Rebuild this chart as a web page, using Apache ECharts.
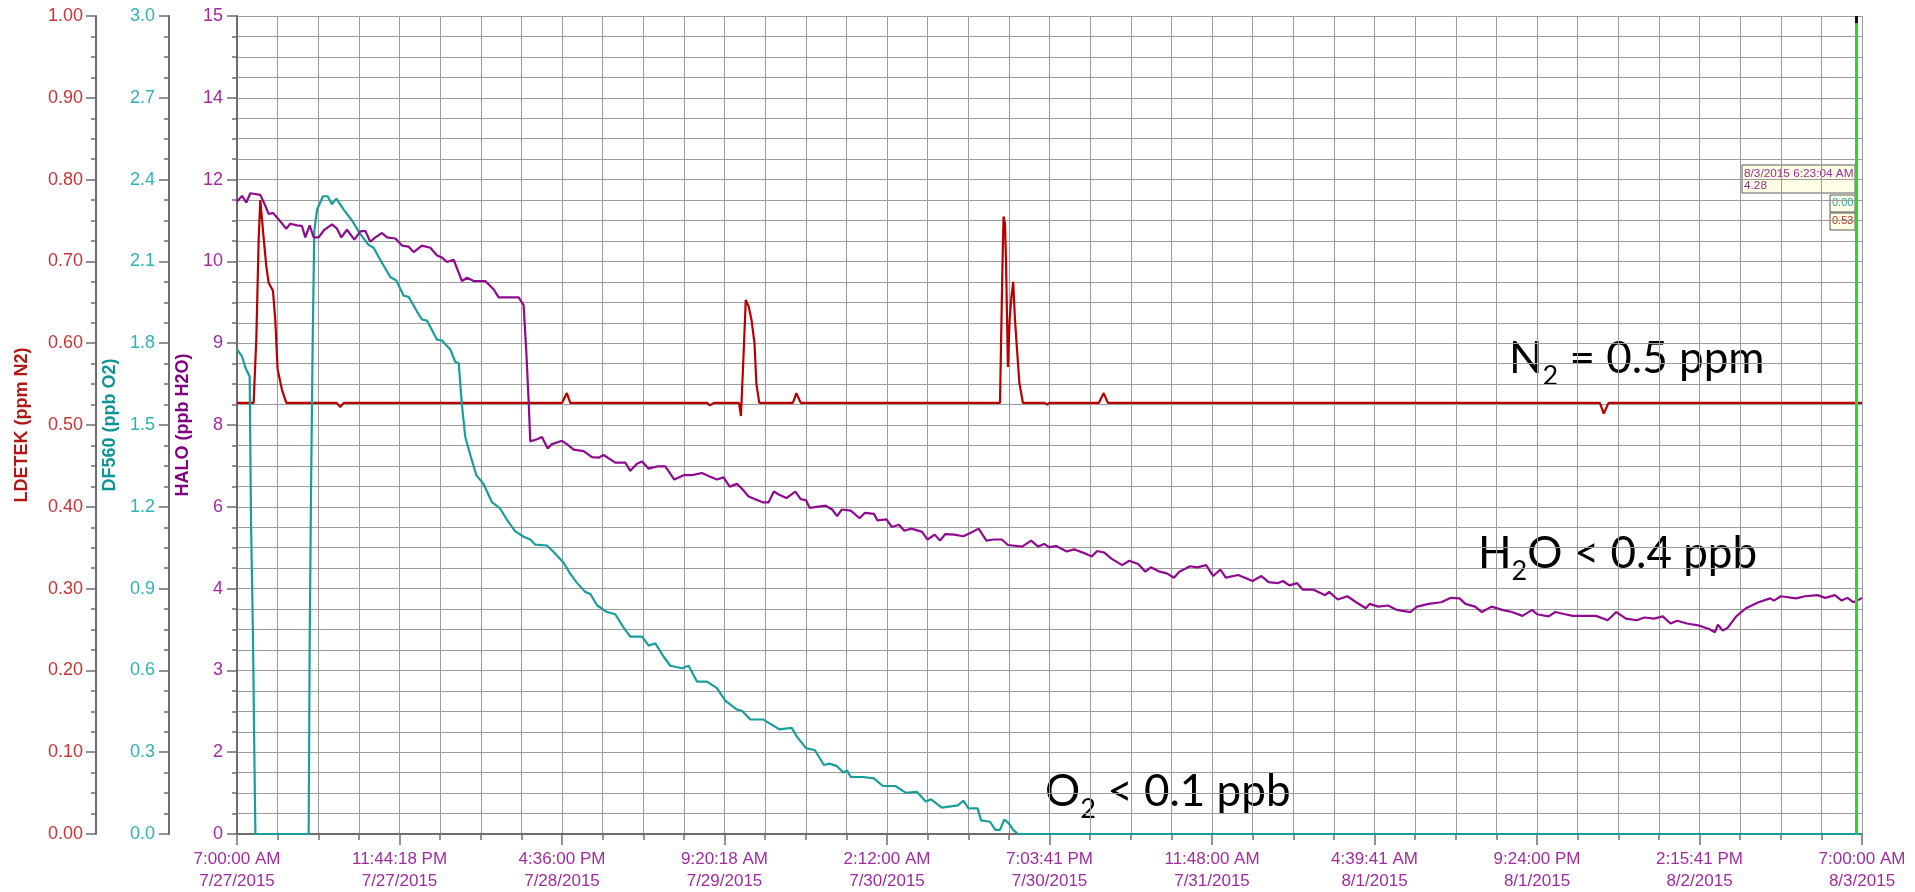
<!DOCTYPE html>
<html>
<head>
<meta charset="utf-8">
<script src="https://cdn.jsdelivr.net/npm/echarts@6/dist/echarts.min.js"></script>
<style>
html,body{margin:0;padding:0;background:#fff;}
#chart{width:1915px;height:892px;}
</style>
</head>
<body>
<div id="chart"></div>
<script>
// ---- x axis (hours since 7/27/2015 7:00:00 AM) ----
const xLabelTimes = ['7:00:00 AM','11:44:18 PM','4:36:00 PM','9:20:18 AM','2:12:00 AM','7:03:41 PM','11:48:00 AM','4:39:41 AM','9:24:00 PM','2:15:41 PM','7:00:00 AM'];
const xLabelDates = ['7/27/2015','7/27/2015','7/28/2015','7/29/2015','7/30/2015','7/30/2015','7/31/2015','8/1/2015','8/1/2015','8/2/2015','8/3/2015'];
const haloTickLabels = ['0','2','3','4','6','8','9','10','12','14','15'];
const cursorHour = 167.384;  // 8/3/2015 6:23:04 AM

// ---- LDETEK (ppm N2) ----
const ldetekHours = [0,1.72,2.0,2.24,2.41,2.69,3.03,3.27,3.72,3.96,4.2,4.65,5.1,10.3,10.68,11.03,33.6,34.1,34.46,48.6,48.9,49.3,51.9,52.1,52.35,52.6,52.9,53.2,53.5,53.7,54.0,57.47,57.83,58.28,78.88,79.14,79.25,79.40,79.51,79.70,79.88,80.06,80.25,80.43,80.62,80.88,81.25,83.5,83.76,84.0,89.1,89.6,90.04,140.9,141.3,141.8,168];
const ldetekPpm = [0.527,0.527,0.606,0.727,0.775,0.737,0.694,0.674,0.664,0.628,0.568,0.543,0.527,0.527,0.522,0.527,0.527,0.539,0.527,0.527,0.524,0.527,0.527,0.511,0.58,0.653,0.645,0.628,0.60,0.55,0.527,0.527,0.539,0.527,0.527,0.697,0.755,0.746,0.697,0.571,0.629,0.656,0.675,0.629,0.596,0.552,0.527,0.527,0.525,0.527,0.527,0.539,0.527,0.527,0.514,0.527,0.527];

// ---- DF560 (ppb O2) ----
const df560Hours = [0,0.52,0.86,1.31,1.45,1.65,1.79,1.90,7.41,7.51,7.65,7.82,7.99,8.27,8.89,9.37,9.82,10.27,11.03,11.89,12.75,13.61,14.13,14.82,15.85,16.47,17.23,17.75,18.61,19.12,19.64,20.68,21.19,22.05,22.57,22.92,23.26,23.6,24.12,24.74,25.5,26.36,27.22,27.91,28.77,29.63,30.32,30.84,32.05,32.91,33.77,34.46,35.15,36.0,36.53,37.22,38.25,39.11,39.97,40.66,41.87,42.56,43.25,44.11,44.8,46.0,46.69,47.55,48.59,49.62,50.48,51.69,52.2,53.07,54.4,55.1,56.06,57.35,57.9,58.83,59.75,60.68,61.23,61.97,62.7,63.08,63.45,64.74,65.85,66.77,68.06,69.17,70.28,71.2,71.76,72.86,73.97,74.53,75.08,75.63,76.56,76.93,77.85,78.4,78.88,79.33,79.77,80.25,80.73,168];
const df560Ppb = [1.777,1.752,1.711,1.678,1.143,0.732,0.304,0,0,0.683,1.242,1.793,2.21,2.29,2.339,2.339,2.31,2.33,2.29,2.25,2.20,2.16,2.15,2.105,2.043,2.03,1.974,1.97,1.916,1.887,1.883,1.813,1.81,1.777,1.731,1.727,1.571,1.456,1.39,1.316,1.283,1.217,1.193,1.152,1.11,1.09,1.08,1.061,1.058,1.028,0.995,0.954,0.921,0.888,0.88,0.839,0.814,0.806,0.757,0.724,0.724,0.691,0.699,0.65,0.617,0.608,0.617,0.559,0.559,0.535,0.489,0.456,0.452,0.42,0.42,0.405,0.384,0.389,0.356,0.315,0.307,0.253,0.258,0.25,0.225,0.233,0.209,0.209,0.204,0.176,0.176,0.151,0.155,0.119,0.127,0.097,0.102,0.105,0.122,0.094,0.094,0.05,0.045,0.015,0.015,0.053,0.04,0.015,0,0];

// ---- HALO (ppb H2O) ----
const haloHours = [0,0.52,0.96,1.38,2.41,2.93,3.27,3.72,4.31,5.10,5.51,6.20,6.72,7.06,7.51,7.93,8.44,9.03,9.82,10.34,10.79,11.37,12.13,12.75,13.27,13.78,14.30,14.99,15.51,16.37,17.06,17.75,18.26,19.12,19.99,20.68,21.19,21.71,22.40,23.26,23.78,24.47,25.67,26.53,27.05,29.12,29.63,29.91,30.15,30.32,31.01,31.53,32.12,32.56,33.60,34.11,34.80,35.84,36.70,37.39,37.90,39.11,40.14,40.66,41.35,41.87,42.56,43.42,44.28,45.21,46.17,47.04,48.07,48.93,49.62,50.31,50.93,51.69,52.21,52.89,53.58,
54.4,54.95,55.5,56.06,56.8,57.72,58.28,58.83,59.2,59.94,60.86,61.53,62.04,62.52,63.45,64.37,64.92,65.85,66.22,67.14,67.7,68.43,68.99,69.73,70.83,71.39,72.13,72.68,73.23,74.16,75.08,75.82,76.67,77.48,78.22,79.07,79.7,81.17,82.1,82.83,83.46,83.94,84.68,85.79,86.53,87.45,88.37,88.93,89.67,90.4,91.51,92.25,93.17,93.91,94.47,95.39,96.13,96.87,97.42,98.53,99.27,100.19,100.93,101.67,102.22,103.51,104.99,105.91,106.65,107.58,108.13,108.8,
109.6,110.2,111.3,112.5,112.9,113.8,114.8,115.7,116.7,117.1,118.0,119.0,119.9,121.3,122.0,123.2,124.5,125.5,126.4,127.0,128.0,128.7,129.7,130.8,131.8,132.9,133.9,134.4,135.6,136.3,137.3,138.1,140.5,141.7,142.6,143.6,144.7,145.5,146.5,147.4,148.2,148.9,149.9,151.2,152.2,152.8,153.1,153.6,154.1,155.0,156.0,157.3,158.5,158.9,159.6,161.2,162.1,163.4,164.2,165.2,165.9,166.5,167.1,167.5,168];
const haloPpb = [11.60,11.70,11.58,11.75,11.72,11.52,11.37,11.39,11.27,11.10,11.19,11.16,11.15,10.94,11.16,10.94,10.94,11.08,11.18,11.10,10.94,11.08,10.90,11.05,11.06,10.86,10.94,11.02,10.94,10.92,10.79,10.77,10.67,10.79,10.75,10.61,10.57,10.49,10.53,10.14,10.20,10.14,10.14,9.99,9.84,9.84,9.70,8.84,7.94,7.20,7.24,7.28,7.07,7.15,7.21,7.15,7.05,7.02,6.91,6.90,6.95,6.81,6.81,6.66,6.79,6.83,6.70,6.74,6.74,6.50,6.58,6.58,6.62,6.55,6.50,6.54,6.37,6.42,6.33,6.19,6.14,
6.08,6.08,6.28,6.22,6.16,6.28,6.14,6.12,5.98,6.00,6.02,5.95,5.83,5.95,5.93,5.79,5.89,5.87,5.75,5.77,5.63,5.67,5.56,5.60,5.54,5.40,5.49,5.38,5.50,5.49,5.46,5.52,5.60,5.38,5.40,5.40,5.30,5.27,5.38,5.27,5.32,5.26,5.28,5.18,5.22,5.16,5.09,5.19,5.16,5.05,4.93,5.01,4.95,4.81,4.89,4.81,4.78,4.70,4.81,4.91,4.89,4.93,4.73,4.85,4.70,4.75,4.64,4.73,4.62,4.60,4.64,4.56,
4.60,4.48,4.48,4.38,4.44,4.30,4.36,4.25,4.14,4.22,4.17,4.19,4.11,4.07,4.17,4.22,4.25,4.33,4.32,4.22,4.17,4.07,4.17,4.11,4.07,4.00,4.11,4.03,3.99,4.07,4.03,4.00,4.00,3.92,4.07,3.95,3.92,3.97,3.95,3.99,3.86,3.91,3.86,3.82,3.76,3.70,3.84,3.73,3.78,3.99,4.14,4.25,4.32,4.28,4.36,4.32,4.36,4.38,4.33,4.38,4.28,4.33,4.25,4.28,4.33];

const toPairs = (hours, vals) => hours.map((h, i) => [h * 60, vals[i]]);

const RED = '#b80000', TEAL = '#1a9e9c', PURPLE = '#8e0a8e';
const gridColor = '#9c9c9c';
const axisGray = '#6e6e6e';
const FONT = '"Liberation Sans", Arial, sans-serif';

function yAxisBase(opts) {
  return Object.assign({
    type: 'value',
    position: 'left',
    axisLine: { show: true, onZero: false, lineStyle: { color: axisGray, width: 2 } },
    axisTick: { show: true, length: 10, lineStyle: { color: axisGray, width: 1.5 } },
    minorTick: { show: true, splitNumber: 4, length: 5, lineStyle: { color: axisGray, width: 1.5 } },
    splitLine: { show: false },
    minorSplitLine: { show: false },
    nameLocation: 'middle',
    nameRotate: 90
  }, opts);
}

// annotation text with a lowered subscript, built from separately placed text pieces
const annoFamily = 'Lato, "Open Sans", sans-serif';
const measureCtx = document.createElement('canvas').getContext('2d');
function textWidth(t, size) { measureCtx.font = size + 'px ' + annoFamily; return measureCtx.measureText(t).width; }
function anno(x, baseline, segments) {
  const MAIN = 44, SUB = 27;
  const children = [];
  let cx = x;
  segments.forEach(seg => {
    const size = seg.sub ? SUB : MAIN;
    const cy = seg.sub ? baseline + 12 - 0.33 * SUB : baseline - 0.33 * MAIN;
    children.push({ type: 'text', x: cx, y: cy, silent: true,
      style: { text: seg.t, font: size + 'px ' + annoFamily, fill: '#000', verticalAlign: 'middle', align: 'left' } });
    cx += textWidth(seg.t, size);
  });
  return { type: 'group', silent: true, children: children };
}
function box(x, y, w, h, lines, color, size) {
  return {
    type: 'group', x: x, y: y, silent: true,
    children: [
      { type: 'rect', shape: { x: 0, y: 0, width: w, height: h }, style: { fill: '#ffffe6', stroke: '#5a5a5a', lineWidth: 1 } },
      { type: 'text', x: 2, y: 2, style: { text: lines, fill: color, font: size + 'px "Liberation Sans", Arial, sans-serif', lineHeight: 12.5 } }
    ]
  };
}

const chart = echarts.init(document.getElementById('chart'), null, { renderer: 'canvas' });
chart.setOption({
  animation: false,
  backgroundColor: '#ffffff',
  grid: { left: 237, right: 53, top: 16, bottom: 58, containLabel: false },
  xAxis: {
    type: 'value', min: 0, max: 10080, interval: 1008,
    axisLine: { show: true, onZero: false, lineStyle: { color: axisGray, width: 2 } },
    axisTick: { show: true, length: 11, lineStyle: { color: axisGray, width: 1.5 } },
    minorTick: { show: true, splitNumber: 4, length: 6, lineStyle: { color: axisGray, width: 1.5 } },
    splitLine: { show: true, lineStyle: { color: gridColor, width: 1 } },
    minorSplitLine: { show: true, lineStyle: { color: gridColor, width: 1 } },
    axisLabel: {
      margin: 14, color: '#a02ca0', fontFamily: FONT, fontSize: 17, lineHeight: 22,
      showMinLabel: true, showMaxLabel: true,
      formatter: v => { const i = Math.round(v / 1008); return xLabelTimes[i] + '\n' + xLabelDates[i]; }
    }
  },
  yAxis: [
    yAxisBase({
      min: 0, max: 15, interval: 1.5, offset: 0,
      name: 'HALO (ppb H2O)', nameGap: 44,
      nameTextStyle: { color: '#800080', fontWeight: 'bold', fontSize: 18, fontFamily: FONT },
      axisLabel: { margin: 14, color: '#a02ca0', fontSize: 18, fontFamily: FONT,
        formatter: v => haloTickLabels[Math.round(v / 1.5)] },
      splitLine: { show: true, lineStyle: { color: gridColor, width: 1 } },
      minorSplitLine: { show: true, lineStyle: { color: gridColor, width: 1 } }
    }),
    yAxisBase({
      min: 0, max: 3, interval: 0.3, offset: 68,
      name: 'DF560 (ppb O2)', nameGap: 46,
      nameTextStyle: { color: '#0e9494', fontWeight: 'bold', fontSize: 18, fontFamily: FONT },
      axisLabel: { margin: 14, color: '#2db3b0', fontSize: 18, fontFamily: FONT,
        formatter: v => v.toFixed(1) }
    }),
    yAxisBase({
      min: 0, max: 1, interval: 0.1, offset: 141,
      name: 'LDETEK (ppm N2)', nameGap: 65,
      nameTextStyle: { color: '#b01818', fontWeight: 'bold', fontSize: 18, fontFamily: FONT },
      axisLabel: { margin: 13, color: '#c83434', fontSize: 18, fontFamily: FONT,
        formatter: v => v.toFixed(2) }
    })
  ],
  series: [
    { name: 'LDETEK', type: 'line', yAxisIndex: 2, showSymbol: false, symbol: 'none',
      lineStyle: { color: RED, width: 2.2 }, data: toPairs(ldetekHours, ldetekPpm) },
    { name: 'DF560', type: 'line', yAxisIndex: 1, showSymbol: false, symbol: 'none',
      lineStyle: { color: TEAL, width: 2.2 }, data: toPairs(df560Hours, df560Ppb) },
    { name: 'HALO', type: 'line', yAxisIndex: 0, showSymbol: false, symbol: 'none',
      lineStyle: { color: PURPLE, width: 2.2 }, data: toPairs(haloHours, haloPpb),
      markLine: { symbol: 'none', silent: true, animation: false, label: { show: false },
        lineStyle: { color: '#22dd22', width: 3, type: 'solid' },
        data: [
          { xAxis: cursorHour * 60 },
          [{ coord: [cursorHour * 60, 15], lineStyle: { color: '#111111', width: 3, type: 'solid' } },
           { coord: [cursorHour * 60, 14.87] }]
        ] } }
  ],
  graphic: [
    anno(1509, 373, [{ t: 'N' }, { t: '2', sub: true }, { t: ' = 0.5 ppm' }]),
    anno(1478, 568, [{ t: 'H' }, { t: '2', sub: true }, { t: 'O < 0.4 ppb' }]),
    anno(1045, 806, [{ t: 'O' }, { t: '2', sub: true }, { t: ' < 0.1 ppb' }]),
    box(1742, 165, 113, 28, '8/3/2015 6:23:04 AM\n4.28', '#9a2e9a', 11.8),
    box(1830, 195, 25, 17, '0.00', '#2aa8a6', 11),
    box(1830, 213, 25, 17, '0.53', '#c03030', 11)
  ]
});
</script>
</body>
</html>
